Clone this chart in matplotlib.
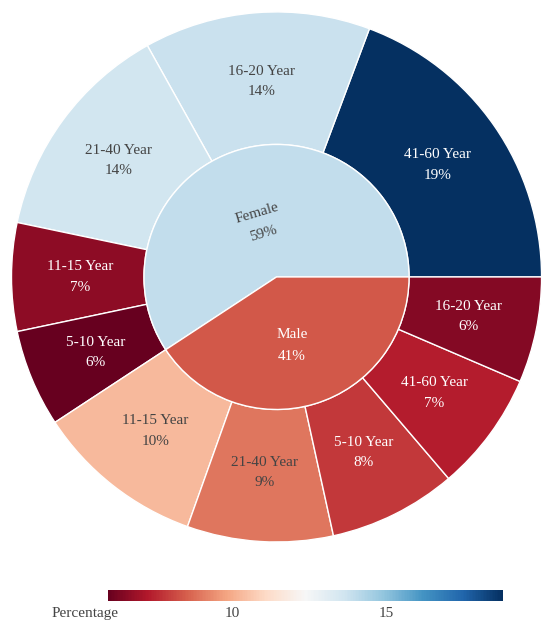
import numpy as np
import matplotlib
matplotlib.use("Agg")
import matplotlib.pyplot as plt
from matplotlib import cm
from matplotlib.colors import Normalize

# Data (percent of all respondents)
groups = ["Female", "Male"]
female_ages = ["41-60 Year", "16-20 Year", "21-40 Year", "11-15 Year", "5-10 Year"]
female_vals = [19.3, 13.8, 13.6, 6.6, 5.94]
male_ages = ["11-15 Year", "21-40 Year", "5-10 Year", "41-60 Year", "16-20 Year"]
male_vals = [10.3, 8.9, 7.8, 7.3, 6.45]

cmin, cmax = 5.94, 18.77
cmap = plt.get_cmap("RdBu")
norm = Normalize(cmin, cmax)

plt.rcParams["font.family"] = ["Liberation Serif", "DejaVu Serif"]

fig = plt.figure(figsize=(5.42, 6.2), dpi=100)
ax = fig.add_axes([0.0212, 0.1258, 0.978, 0.855])

outer_vals = female_vals + male_vals
outer_labels = female_ages + male_ages
total = sum(outer_vals)
inner_vals = [sum(female_vals), sum(male_vals)]
# parent colour = value-weighted mean of children (like plotly)
inner_col = [sum(v * v for v in female_vals) / inner_vals[0],
             sum(v * v for v in male_vals) / inner_vals[1]]

outer_colors = [cmap(norm(v)) for v in outer_vals]
inner_colors = [cmap(norm(v)) for v in inner_col]

ax.pie(outer_vals, radius=1.0, colors=outer_colors, startangle=0, counterclock=True,
       wedgeprops=dict(width=0.5, edgecolor="white", linewidth=1))
ax.pie(inner_vals, radius=0.5, colors=inner_colors, startangle=0, counterclock=True,
       wedgeprops=dict(edgecolor="white", linewidth=1))
ax.set_xlim(-1, 1)
ax.set_ylim(-1, 1)
ax.set_aspect("equal")
ax.axis("off")


def text_color(c):
    lum = 0.299 * c[0] + 0.587 * c[1] + 0.114 * c[2]
    return "white" if lum < 0.5 else "#444444"


fs = 11
ang = 0
for lab, v, c in zip(outer_labels, outer_vals, outer_colors):
    span = v / total * 360
    mid = np.deg2rad(ang + span / 2)
    ang += span
    ax.text(0.74 * np.cos(mid), 0.74 * np.sin(mid), f"{lab}\n{v / total * 100:.0f}%",
            ha="center", va="center", fontsize=fs, color=text_color(c), linespacing=1.75)

ang = 0
for i, (lab, v, c) in enumerate(zip(groups, inner_vals, inner_colors)):
    span = v / total * 360
    mid = ang + span / 2
    ang += span
    r = 0.21 if i == 0 else 0.27
    rot = mid - 90 if i == 0 else 0
    x = r * np.cos(np.deg2rad(mid)) - (0.02 if i == 1 else 0)
    ax.text(x, r * np.sin(np.deg2rad(mid)),
            f"{lab}\n{v / total * 100:.0f}%", ha="center", va="center", fontsize=fs,
            color=text_color(c), rotation=rot, rotation_mode="anchor", linespacing=1.85)

# colorbar
cax = fig.add_axes([0.1987, 0.0306, 0.7288, 0.0177])
cb = fig.colorbar(cm.ScalarMappable(norm=norm, cmap=cmap), cax=cax, orientation="horizontal")
cb.outline.set_visible(False)
cb.set_ticks([10, 15])
cax.tick_params(length=0, labelsize=fs, labelcolor="#444444", pad=4)
fig.text(52 / 542, 1 - 614 / 620, "Percentage", fontsize=fs, color="#444444",
         ha="left", va="center")

fig.savefig("out.png", dpi=100)
